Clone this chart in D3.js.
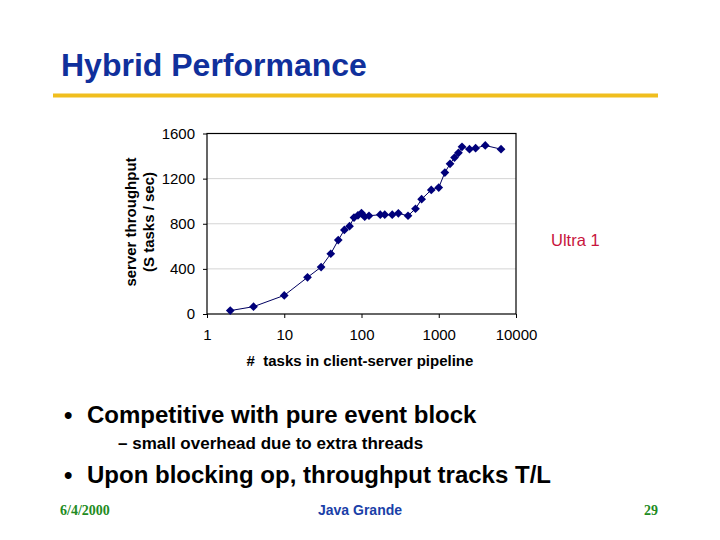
<!DOCTYPE html>
<html>
<head>
  <meta charset="utf-8">
  <title>Hybrid Performance</title>
  <script src="https://cdn.jsdelivr.net/npm/d3@7"></script>
  <style>
    body { margin: 0; background: #fff; }
    svg { font-family: "Liberation Sans", Arial, sans-serif; }
  </style>
</head>
<body>
  <script>
    // Data
    const tasks = [2, 4, 10, 20, 30, 40, 50, 60, 70, 80, 90, 100, 110, 125, 175, 200, 250, 300,
      400, 500, 600, 800, 1000, 1200, 1400, 1600, 1800, 2000, 2500, 3000, 4000, 6400];
    const throughput = [30, 65, 165, 325, 416, 534, 655, 745, 778, 855, 875, 895, 862, 871, 880, 880, 880, 892,
      871, 933, 1018, 1100, 1121, 1254, 1331, 1387, 1429, 1482, 1461, 1470, 1494, 1461];
    const yTicks = [0, 400, 800, 1200, 1600];
    const xTicks = [1, 10, 100, 1000, 10000];

    const points = tasks.map((t, i) => ({ x: t, y: throughput[i] }));

    const W = 720, H = 540;
    const svg = d3.select("body").append("svg")
      .attr("width", W)
      .attr("height", H);

    // Slide title + gold rule
    svg.append("text")
      .attr("x", 61).attr("y", 76)
      .attr("font-size", 32).attr("font-weight", "bold")
      .attr("fill", "#10309c")
      .text("Hybrid Performance");
    svg.append("rect")
      .attr("x", 53).attr("y", 93.5)
      .attr("width", 605).attr("height", 4)
      .attr("fill", "#f0be1e");

    // Plot area
    const pLeft = 207, pRight = 516, pTop = 133.5, pBottom = 314;

    const xScale = d3.scaleLog().domain([1, 10000]).range([pLeft, pRight]);
    const yScale = d3.scaleLinear().domain([0, 1600]).range([pBottom, pTop]);

    // grid
    svg.append("g")
      .selectAll("line")
      .data(yTicks.slice(1, -1))
      .enter().append("line")
      .attr("x1", pLeft).attr("x2", pRight)
      .attr("y1", d => yScale(d)).attr("y2", d => yScale(d))
      .attr("stroke", "#d4d4d4").attr("stroke-width", 1);

    // axes
    const yAxis = d3.axisLeft(yScale).tickValues(yTicks).tickSize(4).tickPadding(8)
      .tickFormat(d3.format("d"));
    const gy = svg.append("g")
      .attr("transform", "translate(" + pLeft + ",0)")
      .call(yAxis);

    const xAxis = d3.axisBottom(xScale).tickValues(xTicks).tickSize(4).tickPadding(11)
      .tickFormat(d3.format("d"));
    const gx = svg.append("g")
      .attr("transform", "translate(0," + pBottom + ")")
      .call(xAxis);

    [gx, gy].forEach(g => {
      g.select(".domain").remove();
      g.selectAll("line").attr("stroke", "#000");
      g.selectAll("text")
        .style("font-family", "Liberation Sans, Arial, sans-serif")
        .style("font-size", "15px").attr("fill", "#000");
    });

    // frame
    svg.append("rect")
      .attr("x", pLeft).attr("y", pTop)
      .attr("width", pRight - pLeft).attr("height", pBottom - pTop)
      .attr("fill", "none").attr("stroke", "#000").attr("stroke-width", 1.2);

    // series line
    const line = d3.line().x(d => xScale(d.x)).y(d => yScale(d.y));
    svg.append("path")
      .datum(points)
      .attr("d", line)
      .attr("fill", "none")
      .attr("stroke", "#000060")
      .attr("stroke-width", 1);

    // diamond markers
    const diamond = d3.symbol().type(d3.symbolSquare).size(38);
    svg.append("g")
      .selectAll("path")
      .data(points)
      .enter().append("path")
      .attr("d", diamond)
      .attr("transform", d => "translate(" + xScale(d.x) + "," + yScale(d.y) + ") rotate(45)")
      .attr("fill", "#00007a");

    // axis titles
    svg.append("text")
      .attr("x", 360).attr("y", 366)
      .attr("text-anchor", "middle")
      .attr("font-size", 15).attr("font-weight", "bold")
      .attr("xml:space", "preserve")
      .text("#  tasks in client-server pipeline");

    const yTitle = svg.append("g")
      .attr("transform", "translate(0,222) rotate(-90)");
    yTitle.append("text")
      .attr("x", 0).attr("y", 136)
      .attr("text-anchor", "middle")
      .attr("font-size", 15).attr("font-weight", "bold")
      .text("server throughput");
    yTitle.append("text")
      .attr("x", 0).attr("y", 154)
      .attr("text-anchor", "middle")
      .attr("font-size", 15).attr("font-weight", "bold")
      .text("(S tasks / sec)");

    // series label
    svg.append("text")
      .attr("x", 551).attr("y", 246)
      .attr("font-size", 16.5)
      .attr("fill", "#c8143c")
      .text("Ultra 1");

    // bullets
    svg.append("text")
      .attr("x", 64).attr("y", 423)
      .attr("font-size", 24).attr("font-weight", "bold")
      .text("\u2022");
    svg.append("text")
      .attr("x", 87).attr("y", 423)
      .attr("font-size", 24).attr("font-weight", "bold")
      .text("Competitive with pure event block");
    svg.append("text")
      .attr("x", 118).attr("y", 449)
      .attr("font-size", 17).attr("font-weight", "bold")
      .text("\u2013 small overhead due to extra threads");
    svg.append("text")
      .attr("x", 64).attr("y", 483)
      .attr("font-size", 24).attr("font-weight", "bold")
      .text("\u2022");
    svg.append("text")
      .attr("x", 87).attr("y", 483)
      .attr("font-size", 24).attr("font-weight", "bold")
      .text("Upon blocking op, throughput tracks T/L");

    // footer
    svg.append("text")
      .attr("x", 60).attr("y", 515)
      .style("font-family", "Liberation Serif, Times New Roman, serif")
      .attr("font-size", 14).attr("font-weight", "bold")
      .attr("fill", "#228b22")
      .text("6/4/2000");
    svg.append("text")
      .attr("x", 360).attr("y", 515)
      .attr("text-anchor", "middle")
      .attr("font-size", 14).attr("font-weight", "bold")
      .attr("fill", "#1a3fa8")
      .text("Java Grande");
    svg.append("text")
      .attr("x", 658).attr("y", 515)
      .attr("text-anchor", "end")
      .style("font-family", "Liberation Serif, Times New Roman, serif")
      .attr("font-size", 14).attr("font-weight", "bold")
      .attr("fill", "#228b22")
      .text("29");
  </script>
</body>
</html>
